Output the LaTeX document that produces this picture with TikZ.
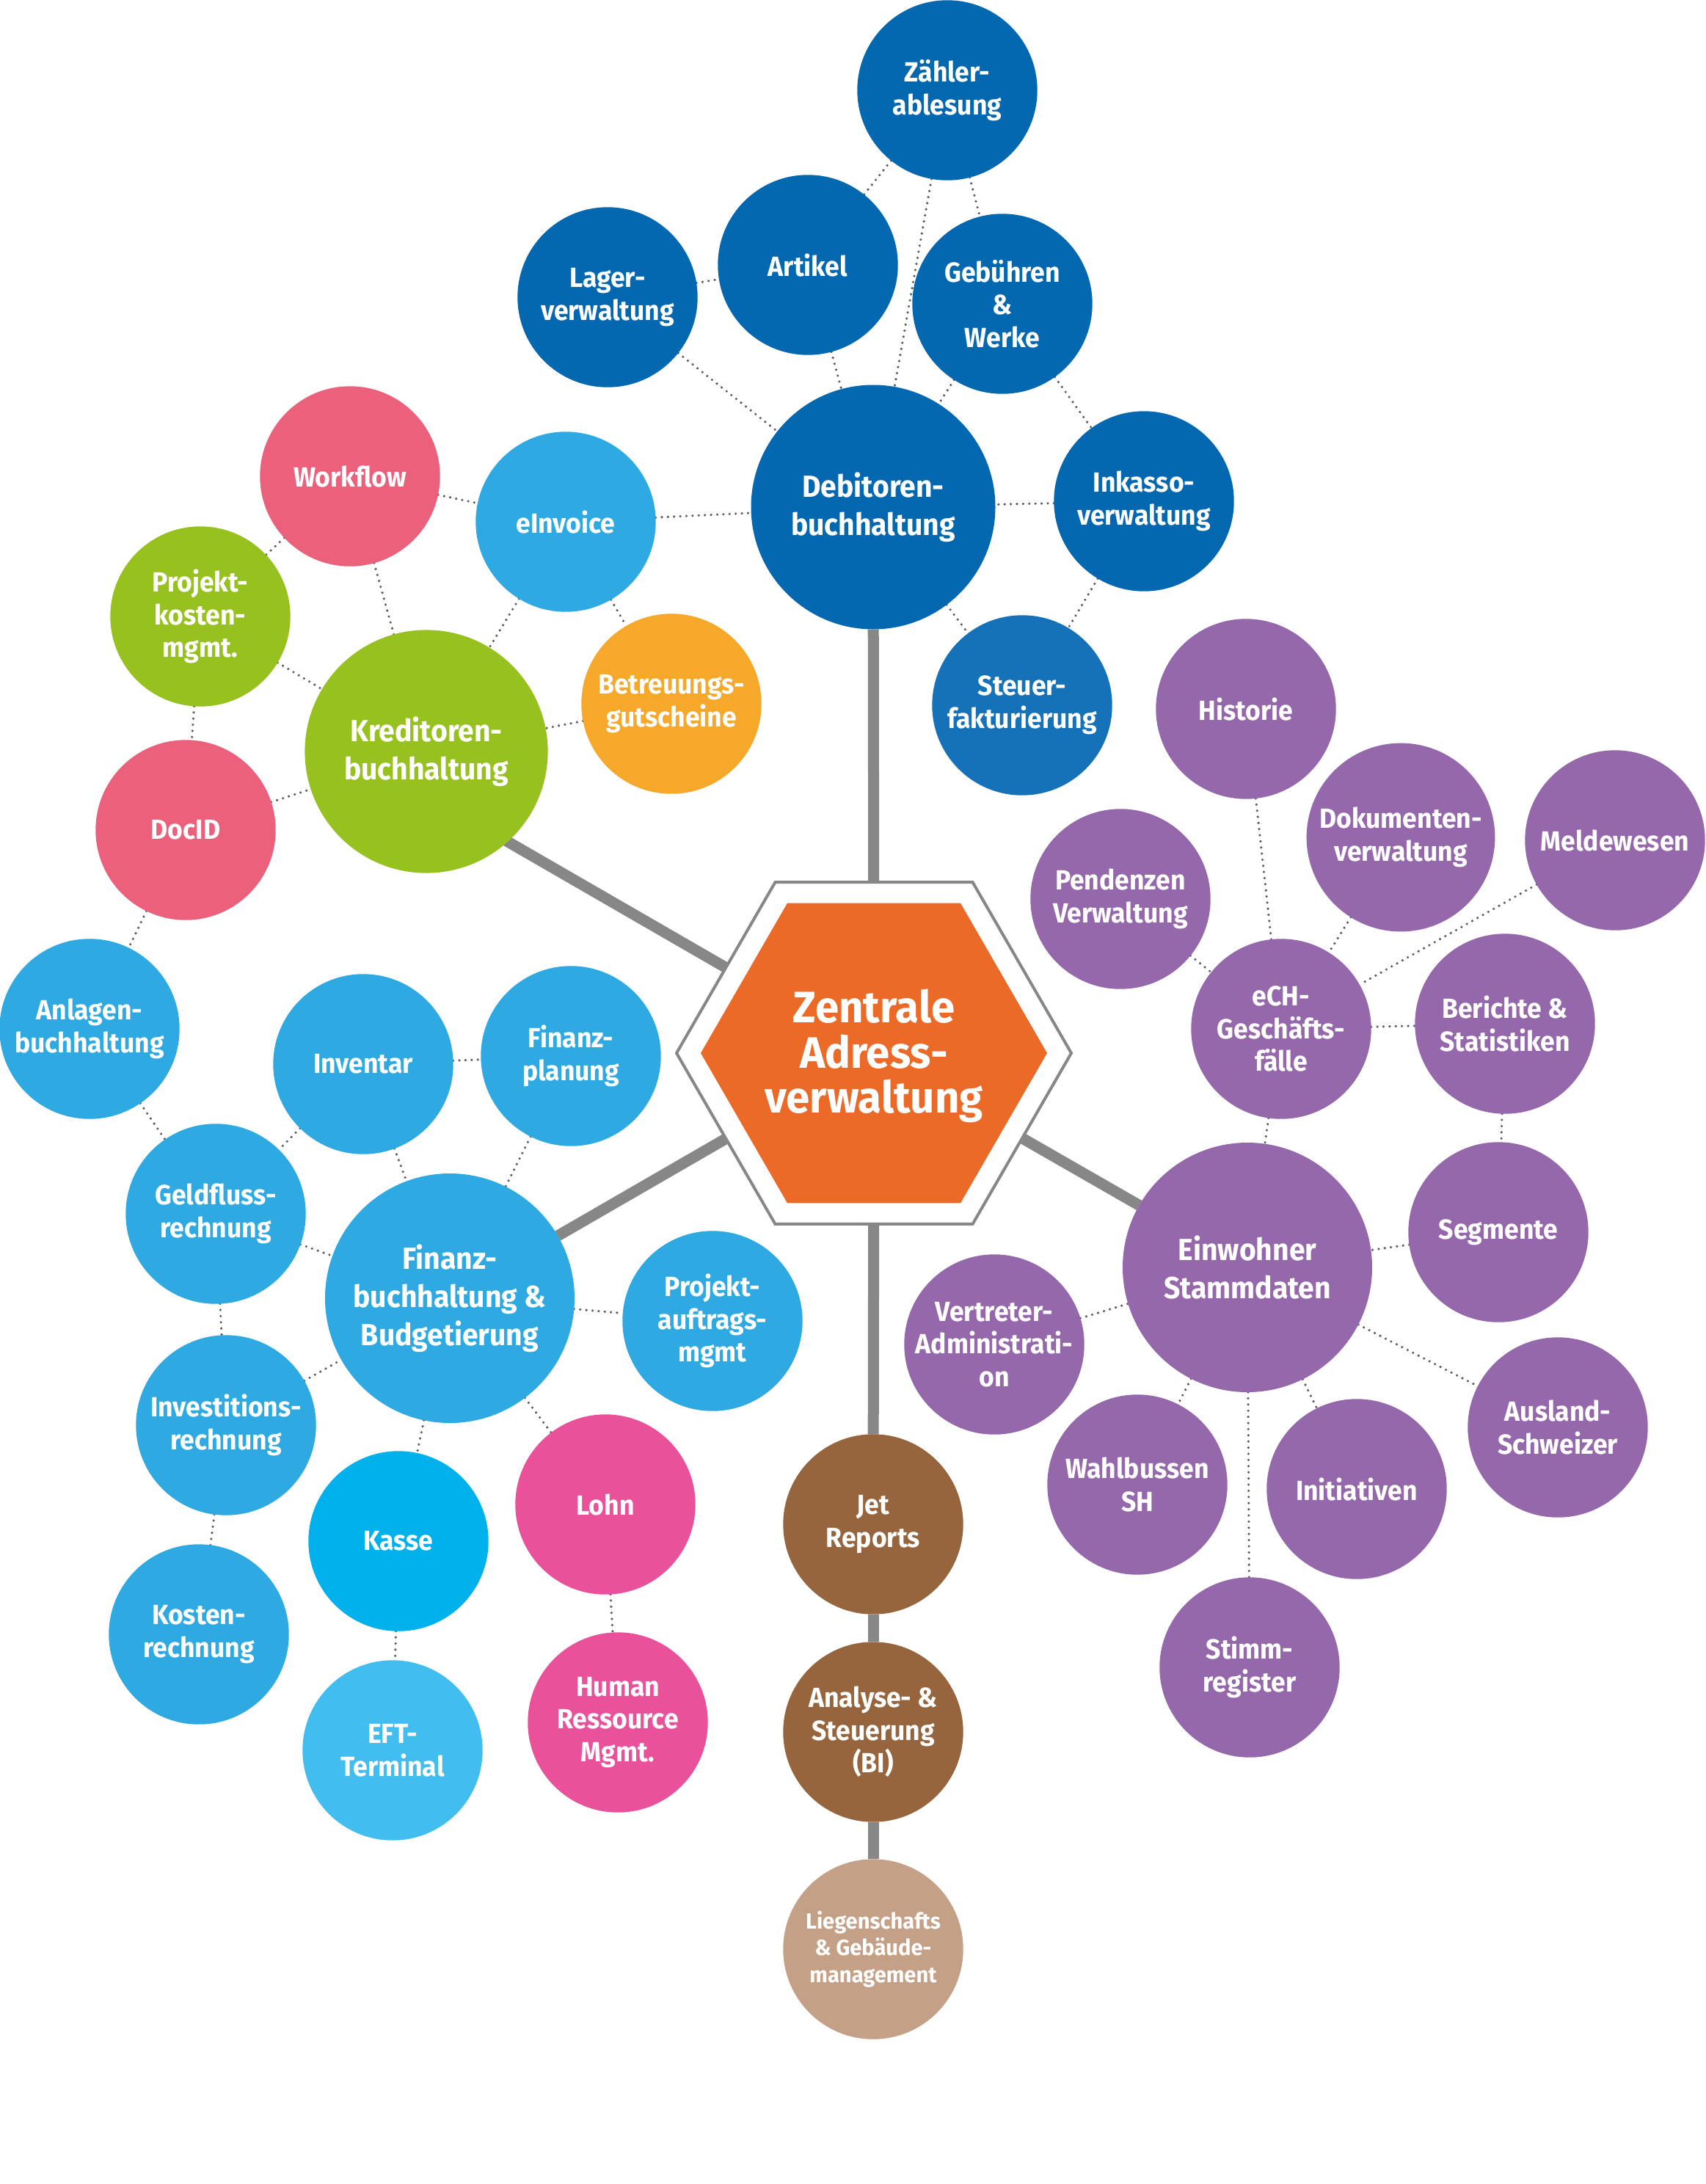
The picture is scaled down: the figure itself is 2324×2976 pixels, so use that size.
\documentclass[tikz,border=0pt]{standalone}
\usepackage{fontspec}
\setmainfont{Fira Sans}
\newfontfamily\bubfam{Fira Sans}[FakeStretch=0.94]
\newfontfamily\hexfam{Fira Sans}[FakeStretch=0.97]
\usetikzlibrary{shapes.geometric,calc}
\pgfdeclarelayer{background}
\pgfsetlayers{background,main}
\definecolor{dblue}{HTML}{0468B1}
\definecolor{steuerblue}{HTML}{1571B8}
\definecolor{lblue}{HTML}{2EA9E1}
\definecolor{kasseblue}{HTML}{00B1EB}
\definecolor{eftblue}{HTML}{41BEEF}
\definecolor{bgreen}{HTML}{97C11F}
\definecolor{rosered}{HTML}{EB607A}
\definecolor{borange}{HTML}{F5A829}
\definecolor{bpink}{HTML}{E9529A}
\definecolor{bpurple}{HTML}{9468AA}
\definecolor{bbrown}{HTML}{96643D}
\definecolor{btan}{HTML}{C4A086}
\definecolor{hexorange}{HTML}{EB6A27}
\definecolor{bargray}{HTML}{878787}
\definecolor{dotgray}{HTML}{5A5E63}
\newcommand{\bubsmall}{\bubfam\fontsize{18.9pt}{22.3pt}\selectfont\bfseries}
\newcommand{\bubbig}{\bubfam\fontsize{20.8pt}{26pt}\selectfont\bfseries}
\newcommand{\bubhex}{\hexfam\fontsize{30pt}{30.75pt}\selectfont\bfseries}
\newcommand{\bubtiny}{\hexfam\fontsize{15pt}{18.35pt}\selectfont\bfseries}
\tikzset{
  bub/.style={circle, inner sep=0pt, outer sep=0pt, minimum size=122.7pt, text=white, align=center, font=\bubsmall},
  bigbub/.style={bub, minimum size=166.5pt, font=\bubbig},
  dots/.style={draw=dotgray, line width=1.8pt, line cap=round, dash pattern=on 0pt off 4.2pt},
  bar/.style={draw=bargray, line width=7.5pt},
  hexshape/.style={regular polygon, regular polygon sides=6, inner sep=0pt, outer sep=0pt},
}
\begin{document}
\begin{tikzpicture}[x=0.5pt,y=-0.5pt]
\useasboundingbox (0,0) rectangle (2324,2976);
% central hexagon
\node[hexshape, minimum size=269pt, draw=bargray, line width=2pt, fill=white] (hex) at (1191,1435) {};
\node[hexshape, minimum size=236pt, fill=hexorange] (hexin) at (hex.center) {};
\node[text=white, align=center, font=\bubhex, inner sep=0pt] (core) at ([yshift=-2pt]hex.center) {Zentrale\\Adress-\\verwaltung};
% Debitoren group
\node[bub,fill=dblue] (zaehler) at (1291,123) {Zähler-\\ablesung};
\node[bub,fill=dblue] (artikel) at (1101,361) {Artikel};
\node[bub,fill=dblue] (lager) at (828,405) {Lager-\\verwaltung};
\node[bub,fill=dblue] (gebuehren) at (1366,414) {Gebühren\\\&\\Werke};
\node[bigbub,fill=dblue] (deb) at (1190,691) {Debitoren-\\buchhaltung};
\node[bub,fill=dblue] (inkasso) at (1559,683) {Inkasso-\\verwaltung};
\node[bub,fill=steuerblue] (steuer) at (1393,961) {Steuer-\\fakturierung};
% Kreditoren group
\node[bub,fill=lblue] (einvoice) at (771,711) {eInvoice};
\node[bub,fill=rosered] (workflow) at (477,649) {Workflow};
\node[bub,fill=bgreen] (pkm) at (273,840) {Projekt-\\kosten-\\mgmt.};
\node[bub,fill=borange] (betreu) at (915,959) {Betreuungs-\\gutscheine};
\node[bigbub,fill=bgreen,minimum size=165.6pt] (kred) at (581,1024) {Kreditoren-\\buchhaltung};
\node[bub,fill=rosered] (docid) at (253,1131) {DocID};
% Finanz group
\node[bub,fill=lblue] (anlagen) at (122,1402) {Anlagen-\\buchhaltung};
\node[bub,fill=lblue] (inventar) at (495,1450) {Inventar};
\node[bub,fill=lblue] (fplan) at (778,1439) {Finanz-\\planung};
\node[bub,fill=lblue] (geld) at (294,1654) {Geldfluss-\\rechnung};
\node[bigbub,fill=lblue,minimum size=170pt] (fibu) at (613,1769) {Finanz-\\buchhaltung \&\\Budgetierung};
\node[bub,fill=lblue] (pam) at (971,1800) {Projekt-\\auftrags-\\mgmt};
\node[bub,fill=lblue] (invest) at (308,1942) {Investitions-\\rechnung};
\node[bub,fill=kasseblue] (kasse) at (543,2100) {Kasse};
\node[bub,fill=bpink] (lohn) at (825,2050) {Lohn};
\node[bub,fill=lblue] (kosten) at (271,2227) {Kosten-\\rechnung};
\node[bub,fill=eftblue] (eft) at (535,2385) {EFT-\\Terminal};
\node[bub,fill=bpink] (hr) at (842,2347) {Human\\Ressource\\Mgmt.};
% bottom chain
\node[bub,fill=bbrown] (jet) at (1190,2077) {Jet\\Reports};
\node[bub,fill=bbrown] (bi) at (1190,2360) {Analyse- \&\\Steuerung\\(BI)};
\node[bub,fill=btan,font=\bubtiny] (lieg) at (1190,2656) {Liegenschafts\\\& Gebäude-\\management};
% Einwohner group
\node[bub,fill=bpurple] (hist) at (1698,966) {Historie};
\node[bub,fill=bpurple,minimum size=128.4pt] (doku) at (1909,1141) {Dokumenten-\\verwaltung};
\node[bub,fill=bpurple] (melde) at (2201,1145) {Meldewesen};
\node[bub,fill=bpurple] (pend) at (1527,1225) {Pendenzen\\Verwaltung};
\node[bub,fill=bpurple] (ech) at (1746,1402) {eCH-\\Geschäfts-\\fälle};
\node[bub,fill=bpurple] (ber) at (2051,1395) {Berichte \&\\Statistiken};
\node[bub,fill=bpurple] (seg) at (2042,1679) {Segmente};
\node[bigbub,fill=bpurple,minimum size=170pt] (einw) at (1700,1727) {Einwohner\\Stammdaten};
\node[bub,fill=bpurple] (vert) at (1355,1832) {Vertreter-\\Administrati-\\on};
\node[bub,fill=bpurple] (ausl) at (2123,1945) {Ausland-\\Schweizer};
\node[bub,fill=bpurple] (wahl) at (1550,2023) {Wahlbussen\\SH};
\node[bub,fill=bpurple] (init) at (1849,2029) {Initiativen};
\node[bub,fill=bpurple] (stimm) at (1703,2272) {Stimm-\\register};
\coordinate (kredEnd) at ($(hex.center)+(210:640)$);
\begin{pgfonlayer}{background}
  \foreach \a/\b in {zaehler/artikel, zaehler/deb, zaehler/gebuehren, lager/artikel, lager/deb, artikel/deb, gebuehren/deb, gebuehren/inkasso, inkasso/deb, inkasso/steuer, deb/steuer, einvoice/deb,
    workflow/einvoice, workflow/pkm, workflow/kred, einvoice/kred, einvoice/betreu, betreu/kred, pkm/kred, pkm/docid, docid/kred, docid/anlagen,
    anlagen/geld, inventar/fplan, inventar/geld, inventar/fibu, fplan/fibu, geld/fibu, geld/invest, invest/fibu, invest/kosten, fibu/pam, fibu/kasse, fibu/lohn, kasse/eft, lohn/hr,
    hist/ech, doku/ech, melde/ech, pend/ech, ech/ber, ech/einw, ber/seg, seg/einw, vert/einw, einw/ausl, einw/wahl, einw/init, einw/stimm}
    {\draw[dots] (\a) -- (\b);}
  \draw[bar] (hex) -- (deb);
  \draw[bar] (hex) -- (kredEnd);
  \draw[bar] (hex) -- (fibu);
  \draw[bar] (hex) -- (einw);
  \draw[bar] (hex) -- (jet);
  \draw[bar] (jet) -- (bi);
  \draw[bar] (bi) -- (lieg);
\end{pgfonlayer}
\end{tikzpicture}
\end{document}
